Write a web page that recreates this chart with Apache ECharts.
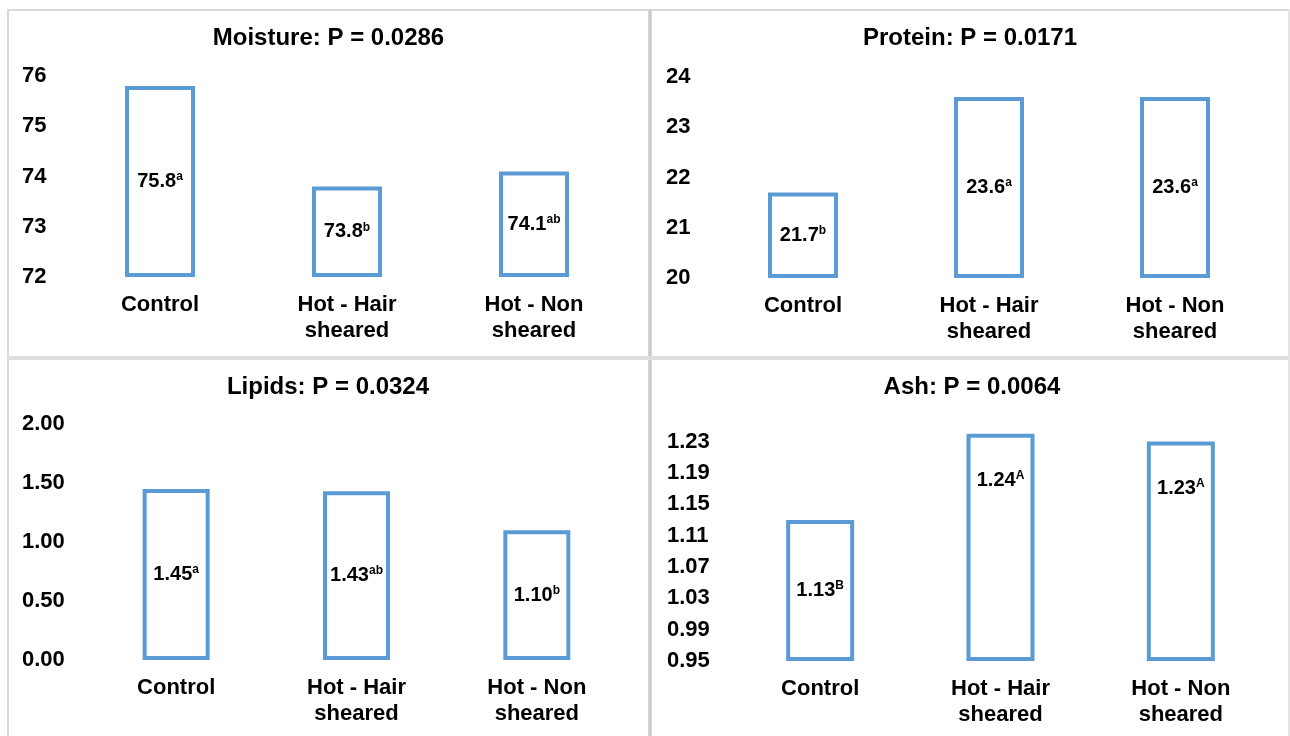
<!DOCTYPE html>
<html>
<head>
<meta charset="utf-8">
<script src="https://cdn.jsdelivr.net/npm/echarts@6/dist/echarts.min.js"></script>
<style>
html,body{margin:0;padding:0;background:#fff;}
#chart{width:1290px;height:736px;}
</style>
</head>
<body>
<div id="chart"></div>
<script>
// ---- data ----
const categories = ['Control', 'Hot - Hair\nsheared', 'Hot - Non\nsheared'];

const moistureTitle = 'Moisture: P = 0.0286';
const moistureValues = [75.8, 73.8, 74.1];
const moistureLetters = ['a', 'b', 'ab'];
const moistureTicks = [72, 73, 74, 75, 76];

const proteinTitle = 'Protein: P = 0.0171';
const proteinValues = [21.7, 23.6, 23.6];
const proteinLetters = ['b', 'a', 'a'];
const proteinTicks = [20, 21, 22, 23, 24];

const lipidsTitle = 'Lipids: P = 0.0324';
const lipidsValues = [1.45, 1.43, 1.10];
const lipidsLetters = ['a', 'ab', 'b'];
const lipidsTicks = [0.00, 0.50, 1.00, 1.50, 2.00];

const ashTitle = 'Ash: P = 0.0064';
const ashValues = [1.13, 1.24, 1.23];
const ashLetters = ['B', 'A', 'A'];
const ashTicks = [0.95, 0.99, 1.03, 1.07, 1.11, 1.15, 1.19, 1.23];

// ---- layout / style ----
const FONT = '"Liberation Sans", Arial, Helvetica, sans-serif';
const BLUE = '#5b9bd5';
const W = 1290, H = 736;

const panels = [
  {title: moistureTitle, values: moistureValues, letters: moistureLetters, ticks: moistureTicks, dec: 1, tickDec: 0,
   box: {x0: 66.5, x1: 627.5, y0: 76, y1: 277}, titleX: 328.5, titleY: 38, labelMargin: 44.5, barWidth: 70},
  {title: proteinTitle, values: proteinValues, letters: proteinLetters, ticks: proteinTicks, dec: 1, tickDec: 0,
   box: {x0: 710, x1: 1268, y0: 77, y1: 278}, titleX: 970, titleY: 38, labelMargin: 44, barWidth: 70},
  {title: lipidsTitle, values: lipidsValues, letters: lipidsLetters, ticks: lipidsTicks, dec: 2, tickDec: 2,
   box: {x0: 86, x1: 627, y0: 424, y1: 660}, titleX: 328, titleY: 387, labelMargin: 64, barWidth: 67},
  {title: ashTitle, values: ashValues, letters: ashLetters, ticks: ashTicks, dec: 2, tickDec: 2,
   box: {x0: 730, x1: 1271, y0: 441.5, y1: 661}, titleX: 972, titleY: 387, labelMargin: 63, barWidth: 68,
   topLabels: true}
];

const option = {
  animation: false,
  backgroundColor: '#fff',
  grid: [], xAxis: [], yAxis: [], series: [],
  graphic: [
    {type: 'rect', shape: {x: 7, y: 9, width: W - 7, height: 2}, style: {fill: '#d9d9d9'}, silent: true},
    {type: 'rect', shape: {x: 7, y: 9, width: 2, height: H}, style: {fill: '#d9d9d9'}, silent: true},
    {type: 'rect', shape: {x: 648, y: 9, width: 4, height: H}, style: {fill: '#d6d6d6'}, silent: true},
    {type: 'rect', shape: {x: 649.5, y: 9, width: 1, height: H}, style: {fill: '#bdbdbd'}, silent: true},
    {type: 'rect', shape: {x: 7, y: 356, width: W - 7, height: 4}, style: {fill: '#dedede'}, silent: true},
    {type: 'rect', shape: {x: W - 2, y: 9, width: 2, height: H}, style: {fill: '#e4e4e4'}, silent: true}
  ]
};

panels.forEach((p, i) => {
  const b = p.box;
  option.graphic.push({
    type: 'text', x: p.titleX, y: p.titleY, silent: true,
    style: {text: p.title, fontFamily: FONT, fontSize: 24, fontWeight: 'bold', fill: '#000',
            textAlign: 'center', textVerticalAlign: 'middle'}
  });
  option.grid.push({left: b.x0, right: W - b.x1, top: b.y0, bottom: H - b.y1, containLabel: false});
  option.xAxis.push({
    type: 'category', gridIndex: i, data: categories,
    axisLine: {show: false}, axisTick: {show: false}, splitLine: {show: false},
    axisLabel: {interval: 0, margin: 15, fontFamily: FONT, fontSize: 22, fontWeight: 'bold', color: '#000', lineHeight: 26}
  });
  const tmin = p.ticks[0], tmax = p.ticks[p.ticks.length - 1];
  option.yAxis.push({
    type: 'value', gridIndex: i, min: tmin, max: tmax, startValue: tmin,
    axisLine: {show: false}, axisTick: {show: false}, splitLine: {show: false},
    axisLabel: {
      customValues: p.ticks, showMinLabel: true, showMaxLabel: true,
      align: 'left', margin: p.labelMargin,
      fontFamily: FONT, fontSize: 22, fontWeight: 'bold', color: '#000',
      formatter: v => Number(v).toFixed(p.tickDec)
    }
  });
  const data = p.values.map((v, k) => {
    const item = {value: v};
    if (p.topLabels && k > 0) {
      item.label = {position: 'insideTop', distance: 36};
    }
    return item;
  });
  option.series.push({
    type: 'bar', xAxisIndex: i, yAxisIndex: i, data: data,
    barWidth: p.barWidth, clip: false,
    itemStyle: {color: '#fff', borderColor: BLUE, borderWidth: 4},
    label: {
      show: true, position: 'inside',
      formatter: prm => '{v|' + Number(prm.value).toFixed(p.dec) + '}{s|' + p.letters[prm.dataIndex] + '}',
      rich: {
        v: {fontFamily: FONT, fontSize: 20, fontWeight: 'bold', color: '#000'},
        s: {fontFamily: FONT, fontSize: 12, fontWeight: 'bold', color: '#000', verticalAlign: 'bottom', padding: [0, 0, 9, 0]}
      }
    }
  });
});

const chart = echarts.init(document.getElementById('chart'), null, {renderer: 'canvas'});
chart.setOption(option);
</script>
</body>
</html>
